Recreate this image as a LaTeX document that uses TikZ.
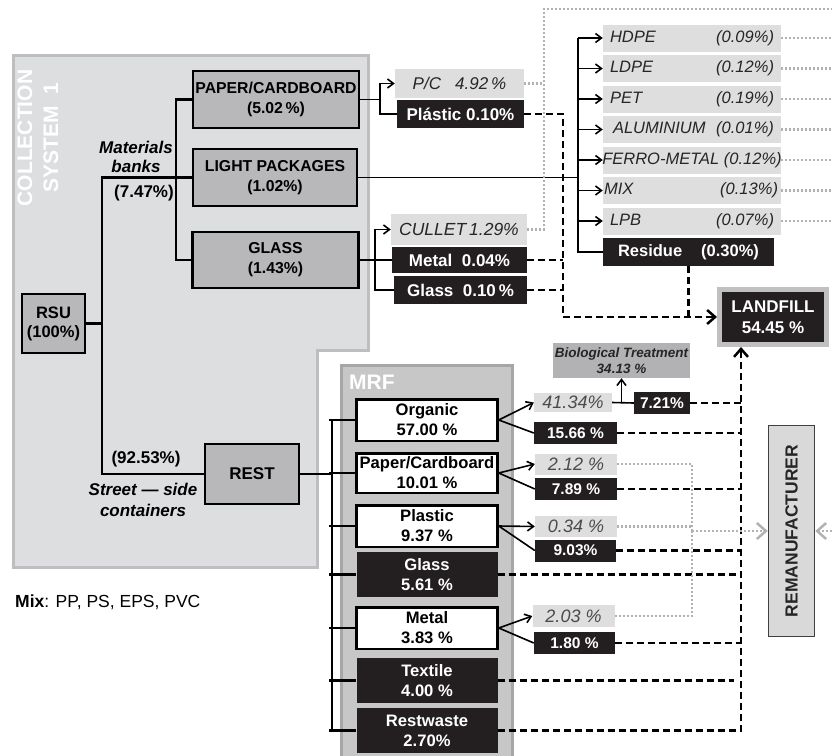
\documentclass[tikz,border=0pt]{standalone}
\usepackage{fontspec}
\setmainfont{Liberation Sans}
\usetikzlibrary{arrows.meta}
\newcommand{\fsz}[2]{\fontsize{#1}{#2}\selectfont}
\newcommand{\sortrow}[2]{\hbox to 164pt{#1\hfill#2}}
\definecolor{regionfill}{RGB}{221,222,223}
\definecolor{regionedge}{RGB}{190,190,192}
\definecolor{boxgray}{RGB}{184,184,186}
\definecolor{mrffill}{RGB}{199,199,200}
\definecolor{mrfedge}{RGB}{166,166,168}
\definecolor{palegray}{RGB}{222,222,222}
\definecolor{nearblack}{RGB}{35,31,32}
\definecolor{dotgray}{RGB}{178,178,178}
\definecolor{italgray}{RGB}{38,38,38}
\definecolor{recgray}{RGB}{75,75,75}
\definecolor{biofill}{RGB}{178,178,180}
\definecolor{lfedge}{RGB}{192,192,192}
\definecolor{remfill}{RGB}{217,217,217}

\begin{document}
\begin{tikzpicture}[x=1pt, y=-1pt, font=\fsz{16}{19},
  >={Straight Barb[length=6pt,width=9pt]},
  colbox/.style={draw, line width=2.5pt, fill=boxgray, align=center, inner sep=0pt, font=\bfseries\fsz{15.8}{20}},
  mrfbox/.style={draw, line width=2.5pt, fill=white, align=center, inner sep=0pt, minimum width=141pt, minimum height=41.5pt, font=\bfseries\fsz{16.6}{20}},
  mrfblk/.style={fill=nearblack, text=white, align=center, inner sep=0pt, minimum width=141pt, minimum height=45pt, font=\bfseries\fsz{16.6}{20}},
  blk/.style={fill=nearblack, text=white, inner sep=0pt, font=\bfseries\fsz{16.5}{19}},
  pale/.style={fill=palegray, text=italgray, inner sep=0pt, font=\itshape\fsz{16.5}{19}},
  fraction/.style={pale, minimum width=178pt, minimum height=27pt},
  outrec/.style={pale, text=recgray, minimum width=82pt, minimum height=21pt, font=\itshape\fsz{18}{20}},
  outres/.style={blk, minimum width=82pt, minimum height=22pt, font=\bfseries\fsz{15.5}{18}},
  link/.style={line width=2.5pt},
  fork/.style={line width=1.6pt},
  tolandfill/.style={line width=2.5pt, dash pattern=on 7pt off 4pt},
  torecycle/.style={draw=dotgray, line width=2.5pt, dash pattern=on 2pt off 2pt},
  bigtip/.style={-{Straight Barb[length=8pt,width=14pt]}},
  chevron/.style={-{Straight Barb[length=9pt,width=16pt]}}]
\path[use as bounding box, clip] (0,0) rectangle (832,755);

% collection system 1: grey region with a notch for the MRF
\filldraw[fill=regionfill, draw=regionedge, line width=3pt]
  (13,55) -- (368,55) -- (368,350) -- (317,350) -- (317,567) -- (13,567) -- cycle;
\node[rotate=90, text=white, align=center, font=\bfseries\fsz{21}{26}] (coltitle) at (38,138) {COLLECTION\\SYSTEM\ \ 1};

\node[colbox, minimum width=63pt, minimum height=59pt, font=\bfseries\fsz{16.5}{19}] (rsu) at (53.5,323.5) {RSU\\(100\%)};
\node[colbox, minimum width=166pt, minimum height=57pt] (paper) at (276,99.5) {PAPER/CARDBOARD\\(5.02\,\%)};
\node[colbox, minimum width=164pt, minimum height=57pt] (light) at (275,177.5) {LIGHT PACKAGES\\(1.02\%)};
\node[colbox, minimum width=166pt, minimum height=56pt] (glass) at (275.5,260) {GLASS\\(1.43\%)};
\node[colbox, minimum width=94pt, minimum height=60pt, font=\bfseries\fsz{17}{19}] (rest) at (252,474) {REST};

\node[align=center, font=\bfseries\itshape\fsz{17}{19}] (banks) at (136,156.5) {Materials\\banks};
\node[font=\bfseries\fsz{17}{19}] (bankpct) at (144,193) {(7.47\%)};
\node[font=\bfseries\fsz{17}{19}] (restpct) at (146,459) {(92.53\%)};
\node[align=center, font=\bfseries\itshape\fsz{17}{21}] (street) at (143,499.5) {Street — side\\containers};

\coordinate (split) at (102,177.5);
\coordinate (bankbus) at (176,177.5);
\draw[link] (rsu.east) -- (rsu.east -| split);
\draw[link] (light.west) -- (split) |- (rest.west);
\draw[link] (paper.west) -| (bankbus) |- (glass.west);

% materials banks outputs
\node[pale, minimum width=129pt, minimum height=29pt, font=\itshape\fsz{17}{20}] (pcout) at (459.5,83.5) {P/C\ \ \ 4.92\,\%};
\node[blk, minimum width=127pt, minimum height=28pt, font=\bfseries\fsz{17}{20}] (plastic) at (460.5,114) {Plástic 0.10\%};
\node[pale, minimum width=136pt, minimum height=31pt, font=\itshape\fsz{17.5}{20}] (cullet) at (459,229.5) {CULLET\,1.29\%};
\node[blk, minimum width=135pt, minimum height=26pt, font=\bfseries\fsz{17}{20}] (metal) at (459.5,260) {Metal\ \ 0.04\%};
\node[blk, minimum width=133pt, minimum height=28pt, font=\bfseries\fsz{17}{20}] (glassout) at (460.5,290) {Glass\ \ 0.10\,\%};

\coordinate (paperfork) at (380,99.5);
\coordinate (glassfork) at (375,260);
\draw[fork] (paper.east) -- (paperfork);
\draw[fork,->] (paperfork) |- (pcout.west);
\draw[fork] (paperfork) |- (plastic.west);
\draw[line width=2pt] (glass.east) -- (metal.west);
\draw[fork,->] (glassfork) |- (cullet.west);
\draw[fork] (glassfork) |- (glassout.west);

% light packages sorting
\node[fraction] (hdpe) at (692,38) {\sortrow{HDPE}{(0.09\%)}};
\node[fraction] (ldpe) at (692,68.5) {\sortrow{LDPE}{(0.12\%)}};
\node[fraction] (pet) at (692,99) {\sortrow{PET}{(0.19\%)}};
\node[fraction] (alu) at (692,129.5) {\sortrow{\hspace*{3pt}ALUMINIUM}{(0.01\%)}};
\node[fraction] (ferro) at (692,160) {\hbox to 164pt{\hss FERRO-METAL (0.12\%)\hss}};
\node[fraction] (mix) at (692,190.5) {\sortrow{\hspace*{-6pt}MIX}{(0.13\%)\hspace*{-4pt}}};
\node[fraction] (lpb) at (692,221) {\sortrow{LPB}{(0.07\%)}};
\node[blk, minimum width=171pt, minimum height=28pt] (residue) at (688.5,252) {\hbox to 141pt{Residue\hfill(0.30\%)}};

\coordinate (sortbus) at (578,177.5);
\draw[line width=1.2pt] (light.east) -- (sortbus);
\draw[line width=2pt] (hdpe.west -| sortbus) |- (residue.west);
\draw[fork,->] (hdpe.west -| sortbus) -- (hdpe.west);
\draw[fork,->] (ldpe.west -| sortbus) -- (ldpe.west);
\draw[fork,->] (pet.west -| sortbus) -- (pet.west);
\draw[fork,->] (alu.west -| sortbus) -- (alu.west);
\draw[fork,->] (ferro.west -| sortbus) -- (ferro.west);
\draw[fork,->] (mix.west -| sortbus) -- (mix.west);
\draw[fork,->] (lpb.west -| sortbus) -- (lpb.west);

% to recycling (dotted, off to the right)
\coordinate (topturn) at (544,9);
\coordinate (topend) at (832,9);
\draw[torecycle] (pcout.east) -- (pcout.east -| topturn);
\draw[torecycle] (cullet.east) -| (topturn) -- (topend);
\draw[torecycle] (hdpe.east) -- (hdpe.east -| topend);
\draw[torecycle] (ldpe.east) -- (ldpe.east -| topend);
\draw[torecycle] (pet.east) -- (pet.east -| topend);
\draw[torecycle] (alu.east) -- (alu.east -| topend);
\draw[torecycle] (ferro.east) -- (ferro.east -| topend);
\draw[torecycle] (mix.east) -- (mix.east -| topend);
\draw[torecycle] (lpb.east) -- (lpb.east -| topend);

% landfill
\node[fill=nearblack, draw=lfedge, line width=5pt, text=white, align=center, inner sep=0pt,
  minimum width=107pt, minimum height=55pt, font=\bfseries\fsz{17}{21}] (lf) at (773,317) {LANDFILL\\54.45 \%};
\coordinate (dropl) at (563,317);
\draw[tolandfill] (plastic.east) -| (dropl);
\draw[tolandfill] (metal.east) -- (metal.east -| dropl);
\draw[tolandfill] (glassout.east) -- (glassout.east -| dropl);
\draw[tolandfill] (residue.south) -- (residue.south |- dropl);
\draw[tolandfill,bigtip] (dropl) -- (lf.west);

% MRF
\filldraw[fill=mrffill, draw=mrfedge, line width=3pt] (341,365) rectangle (512,770);
\node[anchor=west, inner sep=0pt, text=white, font=\bfseries\fsz{21}{25}] (mrf) at (349,382) {MRF};

\node[mrfbox] (organic) at (427,420) {Organic\\57.00 \%};
\node[mrfbox, minimum height=39.5pt] (papmrf) at (427,473) {Paper/Cardboard\\10.01 \%};
\node[mrfbox] (plasmrf) at (427,526) {Plastic\\9.37 \%};
\node[mrfblk] (glassmrf) at (427,574.5) {Glass\\5.61 \%};
\node[mrfbox] (metmrf) at (427,628) {Metal\\3.83 \%};
\node[mrfblk] (textile) at (427,680.5) {Textile\\4.00 \%};
\node[mrfblk] (restw) at (427,730.5) {Restwaste\\2.70\%};

\coordinate (mrfbus) at (332,474);
\draw[link] (rest.east) -- (mrfbus);
\draw[link] (organic.west -| mrfbus) -- (restw.west -| mrfbus);
\draw[link] ([xshift=-3pt]organic.west -| mrfbus) -- (organic.west);
\draw[link] ([xshift=-3pt]papmrf.west -| mrfbus) -- (papmrf.west);
\draw[link] ([xshift=-3pt]plasmrf.west -| mrfbus) -- (plasmrf.west);
\draw[link] ([xshift=-3pt]glassmrf.west -| mrfbus) -- (glassmrf.west);
\draw[link] ([xshift=-3pt]metmrf.west -| mrfbus) -- (metmrf.west);
\draw[link] ([xshift=-3pt]textile.west -| mrfbus) -- (textile.west);
\draw[link] ([xshift=-3pt]restw.west -| mrfbus) -- (restw.west);

% MRF outputs
\node[outrec, minimum width=78pt, minimum height=19pt] (orgrec) at (573,402.5) {41.34\%};
\node[outres, minimum width=83pt] (orgres) at (575.5,433) {15.66 \%};
\node[outrec] (paprec) at (576,464) {2.12 \%};
\node[outres] (papres) at (576,489) {7.89 \%};
\node[outrec] (plarec) at (576,526.5) {0.34 \%};
\node[outres, minimum width=81pt] (plares) at (575.5,550.5) {9.03\%};
\node[outrec, minimum height=22pt] (metrec) at (573.5,616) {2.03 \%};
\node[outres, minimum width=81pt] (metres) at (574.5,643) {1.80 \%};
\node[outres, minimum width=56pt] (orgland) at (662,403) {7.21\%};
\node[fill=biofill, text=italgray, align=center, inner sep=0pt, minimum width=137pt, minimum height=35pt,
  font=\bfseries\itshape\fsz{13.5}{16}] (bio) at (621.5,360.5) {Biological Treatment\\34.13 \%};

\draw[fork,->] (organic.east) -- (orgrec.west);
\draw[fork] (organic.east) -- (orgres.west);
\draw[fork,->] (papmrf.east) -- (paprec.west);
\draw[fork] (papmrf.east) -- (papres.west);
\draw[fork,->] (plasmrf.east) -- (plarec.west);
\draw[fork] (plasmrf.east) -- (plares.west);
\draw[fork,->] (metmrf.east) -- (metrec.west);
\draw[fork] (metmrf.east) -- (metres.west);
\draw[fork] (orgrec.east) -- (orgland.west);
\draw[fork,->] (orgrec.east -| bio.south) -- (bio.south);

% MRF rejects to landfill
\coordinate (landbus) at (741,731);
\draw[tolandfill] (orgland.east) -- (orgland.east -| landbus);
\draw[tolandfill] (orgres.east) -- (orgres.east -| landbus);
\draw[tolandfill] (papres.east) -- (papres.east -| landbus);
\draw[tolandfill] (plares.east) -- (plares.east -| landbus);
\draw[tolandfill] (glassmrf.east) -- (glassmrf.east -| landbus);
\draw[tolandfill] (metres.east) -- (metres.east -| landbus);
\draw[tolandfill] (textile.east) -- ([xshift=-7pt]textile.east -| landbus);
\draw[tolandfill,bigtip] (restw.east) -| (lf.south -| landbus);

% MRF recovered to remanufacturer
\node[draw=black!75, fill=remfill, line width=1.5pt, rotate=90, inner sep=0pt, minimum width=211pt, minimum height=46pt,
  text=black!85, font=\bfseries\fsz{17.5}{20}] (remf) at (791.5,531) {REMANUFACTURER};
\coordinate (remfork) at (692,531);
\coordinate (remin) at (832,531);
\draw[torecycle] (paprec.east) -| (remfork);
\draw[torecycle] (metrec.east) -| (remfork);
\draw[torecycle] (plarec.east) -- (plarec.east -| remfork);
\draw[torecycle,chevron] (remfork) -- (remf.north);
\draw[torecycle,chevron] (remin) -- (remf.south);

\node[anchor=west, inner sep=0pt, font=\fsz{17.5}{20}] (mixnote) at (15,602) {\textbf{Mix}: PP, PS, EPS, PVC};
\end{tikzpicture}
\end{document}
